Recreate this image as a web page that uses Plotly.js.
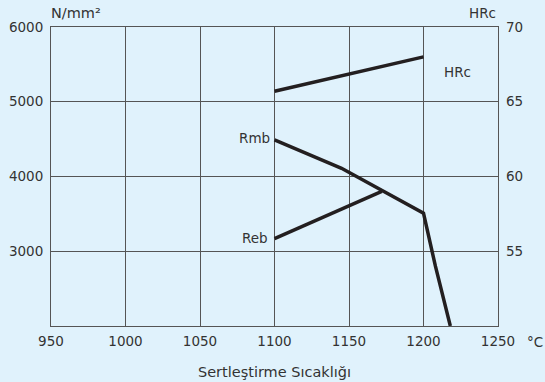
<!DOCTYPE html>
<html>
<head>
<meta charset="utf-8">
<script src="https://cdn.plot.ly/plotly-3.0.1.min.js"></script>
<style>html,body{margin:0;padding:0;background:#e0f2fc;}</style>
</head>
<body>
<div id="chart" style="width:545px;height:382px;"></div>
<script>
// Data
const hrcTemp = [1100, 1200];
const hrcValue = [65.7, 68.0];

const rmbTemp = [1100, 1145, 1200, 1208, 1218];
const rmbValue = [4490, 4110, 3510, 2800, 2000];

const rebTemp = [1100, 1172];
const rebValue = [3170, 3800];

const xTicks = [950, 1000, 1050, 1100, 1150, 1200, 1250];
const yTicks = [3000, 4000, 5000, 6000];
const y2Ticks = [55, 60, 65, 70];

const lineColor = '#231f20';
const textColor = '#333333';
const fam = 'DejaVu Sans, Verdana, sans-serif';
const font = {family: fam, size: 13.5, color: textColor};
const bigFont = {family: fam, size: 14.5, color: textColor};

const traces = [
  {x: rmbTemp, y: rmbValue, mode: 'lines', line: {color: lineColor, width: 3.5}, yaxis: 'y', hoverinfo: 'skip'},
  {x: rebTemp, y: rebValue, mode: 'lines', line: {color: lineColor, width: 3.5}, yaxis: 'y', hoverinfo: 'skip'},
  {x: hrcTemp, y: hrcValue, mode: 'lines', line: {color: lineColor, width: 3.5}, yaxis: 'y2', hoverinfo: 'skip'}
];

const layout = {
  width: 545, height: 382,
  margin: {l: 51, r: 47, t: 27, b: 56},
  paper_bgcolor: '#e0f2fc',
  plot_bgcolor: '#e0f2fc',
  showlegend: false,
  font: font,
  xaxis: {
    range: [950, 1250], tickvals: xTicks, ticktext: xTicks.map(String),
    showgrid: true, gridcolor: '#555555', gridwidth: 1,
    showline: true, linecolor: '#555555', linewidth: 1, mirror: true,
    zeroline: false, ticks: '', ticklabelstandoff: 3,
    title: {text: 'Sertleştirme Sıcaklığı', font: bigFont, standoff: 18}
  },
  yaxis: {
    range: [2000, 6000], tickvals: yTicks, ticktext: yTicks.map(String),
    showgrid: true, gridcolor: '#555555', gridwidth: 1,
    showline: true, linecolor: '#555555', linewidth: 1, mirror: true,
    zeroline: false, ticks: '', ticklabelstandoff: 4
  },
  yaxis2: {
    range: [50, 70], tickvals: y2Ticks, ticktext: y2Ticks.map(String),
    overlaying: 'y', side: 'right', showgrid: false, showline: false,
    zeroline: false, ticks: '', ticklabelstandoff: 7
  },
  annotations: [
    {text: 'Rmb', x: 1100, y: 4490, xref: 'x', yref: 'y', xanchor: 'right', yanchor: 'middle', xshift: -3, yshift: 2, showarrow: false, font: font},
    {text: 'Reb', x: 1100, y: 3170, xref: 'x', yref: 'y', xanchor: 'right', yanchor: 'middle', xshift: -5, yshift: 1, showarrow: false, font: font},
    {text: 'HRc', x: 1223, y: 67.0, xref: 'x', yref: 'y2', xanchor: 'center', yanchor: 'middle', showarrow: false, font: font},
    {text: 'N/mm²', x: 0, y: 1, xref: 'paper', yref: 'paper', xanchor: 'left', yanchor: 'bottom', xshift: -2, yshift: 4, showarrow: false, font: bigFont},
    {text: 'HRc', x: 1, y: 1, xref: 'paper', yref: 'paper', xanchor: 'right', yanchor: 'bottom', yshift: 4, showarrow: false, font: font},
    {text: '°C', x: 1, y: 0, xref: 'paper', yref: 'paper', xanchor: 'left', yanchor: 'top', xshift: 27, yshift: -6, showarrow: false, font: font}
  ]
};

Plotly.newPlot('chart', traces, layout, {staticPlot: true, displayModeBar: false});
</script>
</body>
</html>
